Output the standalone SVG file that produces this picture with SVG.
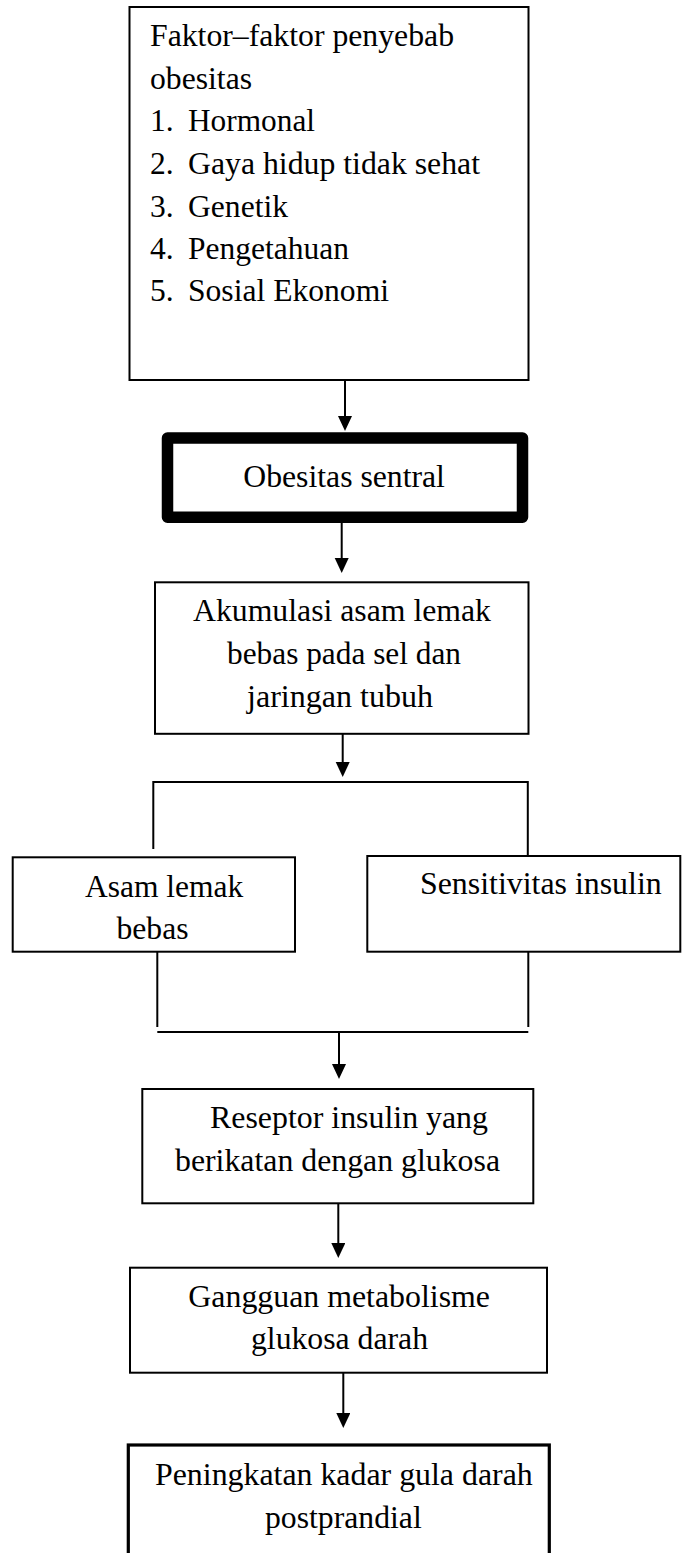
<svg xmlns="http://www.w3.org/2000/svg" width="682" height="1553" viewBox="0 0 682 1553">
<style>
.box{fill:#fff;stroke:#000;stroke-width:2}
.thick{fill:#fff;stroke:#000;stroke-width:11.5;stroke-linejoin:round}
.bold{fill:#fff;stroke:#000;stroke-width:3.2}
.t{font-family:"Liberation Serif","Times New Roman",serif;font-size:31.5px;fill:#000}
.c{stroke:#000;stroke-width:2;fill:none}
</style>
<defs>
<marker id="ah" markerUnits="userSpaceOnUse" markerWidth="15" markerHeight="15" refX="11" refY="7" orient="auto">
<path d="M0,0 L15,7 L0,14 z" fill="#000"/>
</marker>
</defs>
<rect width="682" height="1553" fill="#fff"/>
<g id="connectors">
<line class="c" x1="345" y1="380" x2="345" y2="427" marker-end="url(#ah)"/>
<line class="c" x1="341.7" y1="523" x2="341.7" y2="569" marker-end="url(#ah)"/>
<line class="c" x1="342.7" y1="734" x2="342.7" y2="773" marker-end="url(#ah)"/>
<polyline class="c" points="153.3,849 153.3,782 527.8,782 527.8,856"/>
<line class="c" x1="157.3" y1="952" x2="157.3" y2="1027"/>
<line class="c" x1="528.3" y1="952" x2="528.3" y2="1027"/>
<line class="c" x1="157.3" y1="1032" x2="528.3" y2="1032"/>
<line class="c" x1="339" y1="1032" x2="339" y2="1075" marker-end="url(#ah)"/>
<line class="c" x1="338.3" y1="1203" x2="338.3" y2="1254" marker-end="url(#ah)"/>
<line class="c" x1="343.3" y1="1373" x2="343.3" y2="1424" marker-end="url(#ah)"/>
</g>
<g id="faktor">
<rect class="box" x="129.5" y="7" width="399" height="373"/>
<text class="t" x="150" y="46" textLength="304" lengthAdjust="spacingAndGlyphs">Faktor–faktor penyebab</text>
<text class="t" x="150" y="89" textLength="102" lengthAdjust="spacingAndGlyphs">obesitas</text>
<text class="t" x="150" y="131">1.</text>
<text class="t" x="188" y="131" textLength="127" lengthAdjust="spacingAndGlyphs">Hormonal</text>
<text class="t" x="150" y="174">2.</text>
<text class="t" x="188" y="174" textLength="292" lengthAdjust="spacingAndGlyphs">Gaya hidup tidak sehat</text>
<text class="t" x="150" y="216.5">3.</text>
<text class="t" x="188" y="216.5" textLength="100" lengthAdjust="spacingAndGlyphs">Genetik</text>
<text class="t" x="150" y="258.5">4.</text>
<text class="t" x="188" y="258.5" textLength="161" lengthAdjust="spacingAndGlyphs">Pengetahuan</text>
<text class="t" x="150" y="301">5.</text>
<text class="t" x="188" y="301" textLength="201" lengthAdjust="spacingAndGlyphs">Sosial Ekonomi</text>
</g>
<g id="obesitas-sentral">
<rect class="thick" x="167.5" y="438" width="355" height="79.2"/>
<text class="t" x="243.3" y="487" textLength="201.6" lengthAdjust="spacingAndGlyphs">Obesitas sentral</text>
</g>
<g id="akumulasi">
<rect class="box" x="155" y="582.3" width="373.5" height="151.5"/>
<text class="t" x="193" y="621" textLength="298" lengthAdjust="spacingAndGlyphs">Akumulasi asam lemak</text>
<text class="t" x="227" y="663.5" textLength="234" lengthAdjust="spacingAndGlyphs">bebas pada sel dan</text>
<text class="t" x="247" y="706.5" textLength="186" lengthAdjust="spacingAndGlyphs">jaringan tubuh</text>
</g>
<g id="asam-lemak">
<rect class="box" x="12.7" y="857.3" width="282.3" height="94.4"/>
<text class="t" x="85" y="897" textLength="158.3" lengthAdjust="spacingAndGlyphs">Asam lemak</text>
<text class="t" x="116.5" y="938.5" textLength="72" lengthAdjust="spacingAndGlyphs">bebas</text>
</g>
<g id="sensitivitas">
<rect class="box" x="367.3" y="856" width="313" height="95.7"/>
<text class="t" x="420" y="894.3" textLength="241.7" lengthAdjust="spacingAndGlyphs">Sensitivitas insulin</text>
</g>
<g id="reseptor">
<rect class="box" x="142.3" y="1089" width="391" height="114.3"/>
<text class="t" x="210" y="1127.7" textLength="278" lengthAdjust="spacingAndGlyphs">Reseptor insulin yang</text>
<text class="t" x="175" y="1170.7" textLength="325" lengthAdjust="spacingAndGlyphs">berikatan dengan glukosa</text>
</g>
<g id="gangguan">
<rect class="box" x="130" y="1267.7" width="417" height="105"/>
<text class="t" x="188.3" y="1306.7" textLength="301.7" lengthAdjust="spacingAndGlyphs">Gangguan metabolisme</text>
<text class="t" x="251" y="1349" textLength="177" lengthAdjust="spacingAndGlyphs">glukosa darah</text>
</g>
<g id="peningkatan">
<rect class="bold" x="128.3" y="1445" width="421" height="130"/>
<text class="t" x="155" y="1485" textLength="377.7" lengthAdjust="spacingAndGlyphs">Peningkatan kadar gula darah</text>
<text class="t" x="265" y="1528" textLength="156.7" lengthAdjust="spacingAndGlyphs">postprandial</text>
</g>
</svg>
